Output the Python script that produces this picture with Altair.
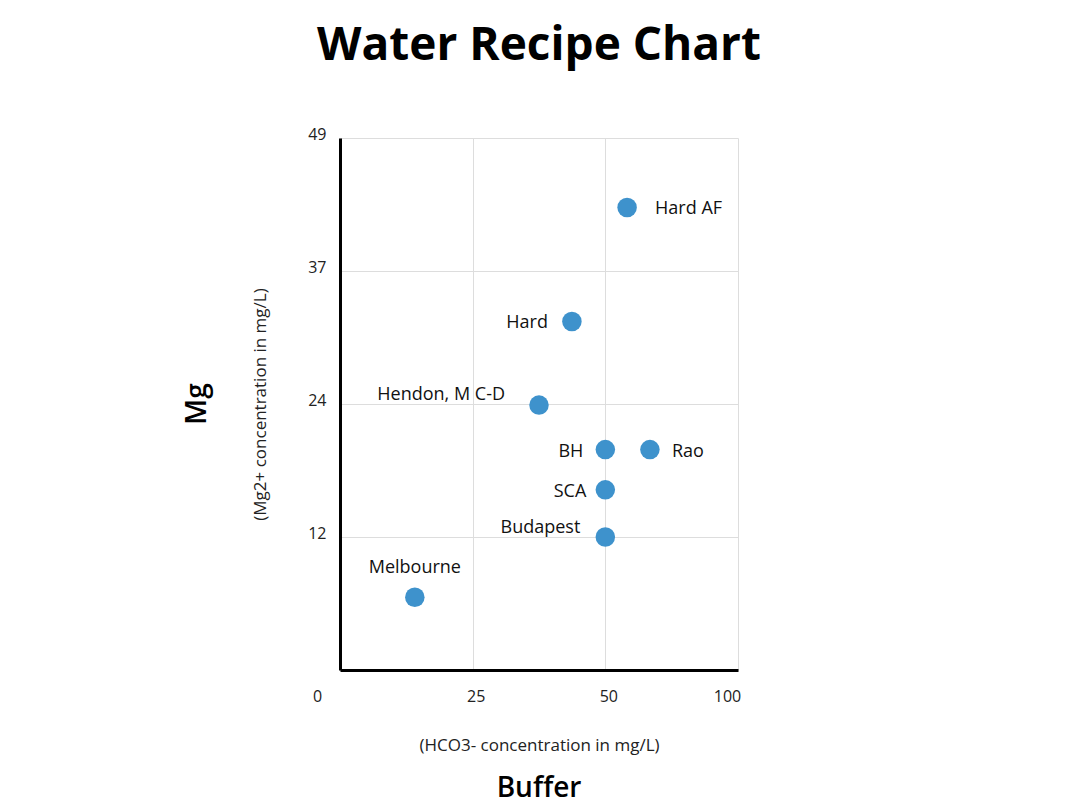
import altair as alt
import pandas as pd

# Data
names = ["Hard AF", "Hard", "Hendon, M C-D", "BH", "Rao", "SCA", "Budapest", "Melbourne"]
buffer_vals = [54.1, 43.7, 37.5, 50.0, 58.4, 50.0, 50.0, 14.1]
mg_vals = [42.6, 32.1, 24.4, 20.3, 20.3, 16.6, 12.25, 6.7]

x_ticks = [0, 25, 50, 75]
x_tick_labels = ["0", "25", "50", "100"]
y_ticks = [0, 12.25, 24.5, 36.75, 49]
y_tick_labels = ["", "12", "24", "37", "49"]

# label placement per recipe: (align, dx, dy)
label_style = {
    "Hard AF": ("left", 28, 2),
    "Rao": ("left", 22, 2),
    "Hard": ("right", -24, 2),
    "BH": ("right", -22, 2),
    "SCA": ("right", -19, 2),
    "Budapest": ("right", -25, -9),
    "Hendon, M C-D": ("right", -34, -10),
    "Melbourne": ("center", 0, -29),
}

df = pd.DataFrame({"name": names, "buffer": buffer_vals, "mg": mg_vals})

FONT = "Open Sans"
W, H = 398, 532


def label_expr(vals, labels):
    parts = []
    for v, l in zip(vals, labels):
        parts.append(f"datum.value == {v} ? '{l}'")
    return " : ".join(parts) + " : ''"


x_enc = alt.X(
    "buffer:Q",
    scale=alt.Scale(domain=[0, 75], nice=False, zero=True),
    axis=alt.Axis(
        values=x_ticks,
        labelExpr=label_expr(x_ticks, x_tick_labels),
        title="(HCO3- concentration in mg/L)",
        titleFont=FONT,
        titleFontSize=17,
        titleFontWeight="normal",
        titleColor="#222222",
        titlePadding=33,
        labelFont=FONT,
        labelFontSize=16,
        labelColor="#222222",
        labelPadding=18,
        labelBaseline="top",
        labelOffset={
            "condition": [
                {"test": "datum.value == 0", "value": -23},
                {"test": "datum.value == 75", "value": -11},
            ],
            "value": 3,
        },
        ticks=False,
        domainColor="#000000",
        domainWidth=3,
        gridColor="#dddddd",
        gridWidth=1,
        labelFlush=False,
    ),
)

y_enc = alt.Y(
    "mg:Q",
    scale=alt.Scale(domain=[0, 49], nice=False, zero=True),
    axis=alt.Axis(
        values=y_ticks,
        labelExpr=label_expr(y_ticks, y_tick_labels),
        title="(Mg2+ concentration in mg/L)",
        titleFont=FONT,
        titleFontSize=17,
        titleFontWeight="normal",
        titleColor="#222222",
        titlePadding=38,
        labelFont=FONT,
        labelFontSize=16,
        labelColor="#222222",
        labelPadding=14,
        labelOffset=-4,
        ticks=False,
        domainColor="#000000",
        domainWidth=3,
        gridColor="#dddddd",
        gridWidth=1,
        labelFlush=False,
    ),
)

base = alt.Chart(df)

points = base.mark_circle(size=380, opacity=1, color="#3e92cc").encode(x=x_enc, y=y_enc)

layers = [points]
for nm in names:
    align, dx, dy = label_style[nm]
    layers.append(
        base.transform_filter(alt.datum.name == nm)
        .mark_text(align=align, baseline="middle", dx=dx, dy=dy, font=FONT, fontSize=18, color="#111111")
        .encode(x="buffer:Q", y="mg:Q", text="name:N")
    )

buffer_title = alt.Chart(pd.DataFrame({"t": ["Buffer"]})).mark_text(
    font=FONT, fontSize=28, fontWeight=600, color="#000000", align="center", baseline="middle"
).encode(x=alt.value(W / 2), y=alt.value(651), text="t:N")

mg_title = alt.Chart(pd.DataFrame({"t": ["Mg"]})).mark_text(
    font=FONT, fontSize=28, fontWeight=600, color="#000000", align="center", baseline="middle", angle=270
).encode(x=alt.value(-142), y=alt.value(H / 2), text="t:N")

chart = (
    alt.layer(*layers, buffer_title, mg_title)
    .properties(
        width=W,
        height=H,
        title=alt.TitleParams(
            "Water Recipe Chart",
            font=FONT,
            fontSize=46,
            fontWeight="bold",
            color="#000000",
            anchor="middle",
            baseline="alphabetic",
            offset=20,
        ),
        autosize=alt.AutoSizeParams(type="none"),
        padding={"left": 332, "top": 130, "right": 334, "bottom": 140},
        background="white",
    )
    .configure_view(stroke=None)
)

chart.save("out.html", embed_options={"renderer": "svg", "actions": False})
